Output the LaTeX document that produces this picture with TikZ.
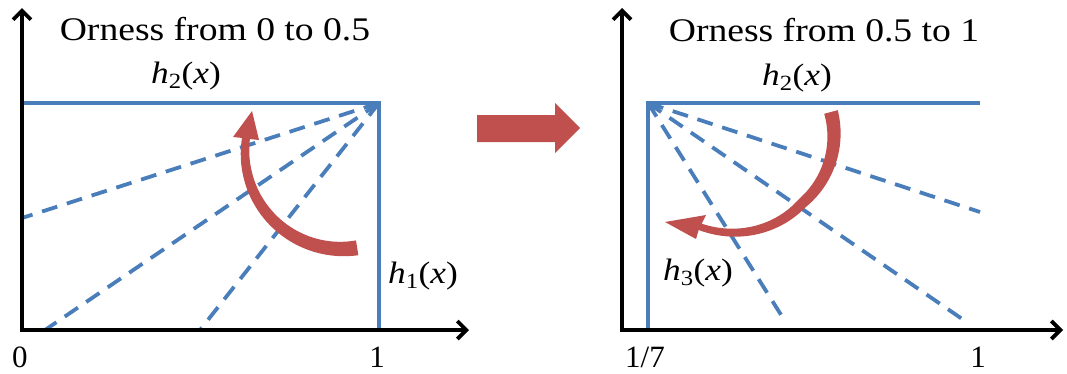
\documentclass[tikz,border=0pt]{standalone}
\usepackage{fontspec}
\setmainfont{Liberation Serif}
\newfontfamily\widefont[FakeStretch=1.14]{Liberation Serif}
\usetikzlibrary{arrows.meta}
\definecolor{lblue}{RGB}{74,126,187}
\definecolor{lred}{RGB}{192,80,77}
\tikzset{
  axisline/.style={line width=3.8pt, black, line join=miter, {Straight Barb[length=9pt,width=18pt]}-{Straight Barb[length=9pt,width=18pt]}},
  solidblue/.style={line width=3.8pt, lblue, line join=miter},
  dashblue/.style={line width=3.8pt, lblue, dash pattern=on 16pt off 10pt},
  title/.style={font=\widefont\fontsize{33}{33}\selectfont, anchor=base, inner sep=0pt},
  flabel/.style={font=\widefont\fontsize{31}{31}\selectfont, anchor=base, inner sep=0pt},
  tick/.style={font=\fontsize{31}{31}\selectfont, anchor=base, inner sep=0pt},
}
\newcommand{\hx}[1]{\textit{h}\textsubscript{#1}(\textit{x})}
\begin{document}
\begin{tikzpicture}[x=1pt,y=-1pt]
\path[use as bounding box] (0,0) rectangle (1067,373);
% ---------- left panel ----------
\coordinate (Lo) at (22,330);
\coordinate (Lyt) at (22,8);
\coordinate (Lxt) at (469,330);
\coordinate (Lc) at (379,103);
\coordinate (Lh) at (22,103);
\coordinate (Lb) at (379,330);
\coordinate (Ld1) at (22,218);
\coordinate (Ld2) at (45,330);
\coordinate (Ld3) at (200,330);
\draw[dashblue] (Lc) -- (Ld1);
\draw[dashblue] (Lc) -- (Ld2);
\draw[dashblue] (Lc) -- (Ld3);
\draw[solidblue] (Lh) -- (Lc) -- (Lb);
\draw[axisline] (Lyt) -- (Lo) -- (Lxt);
\node[title] (Lt) at (215,40) {Orness from 0 to 0.5};
\node[flabel] (Lh2) at (186,83) {\hx{2}};
\node[flabel] (Lh1) at (423,283) {\hx{1}};
\node[tick] (L0) at (20,367) {0};
\node[tick] (L1) at (377,367) {1};
% left red curved arrow
\fill[lred] plot[domain=81:188, samples=50, variable=\t]
   ({342+(97+(7.5-3.5*(\t-81)/107))*cos(\t)}, {152+(97+(7.5-3.5*(\t-81)/107))*sin(\t)})
   -- (233,137) -- (252,111) -- (259,140)
   -- plot[domain=188:81, samples=50, variable=\t]
   ({342+(97-(7.5-3.5*(\t-81)/107))*cos(\t)}, {152+(97-(7.5-3.5*(\t-81)/107))*sin(\t)})
   -- cycle;
% ---------- middle arrow ----------
\fill[lred] (477,115) -- (555,115) -- (555,103) -- (580,128) -- (555,153) -- (555,142) -- (477,142) -- cycle;
% ---------- right panel ----------
\coordinate (Ro) at (622,330);
\coordinate (Ryt) at (622,8);
\coordinate (Rxt) at (1063,330);
\coordinate (Rc) at (648,103);
\coordinate (Rb) at (648,330);
\coordinate (Rh) at (980,103);
\coordinate (Rd1) at (980,212);
\coordinate (Rd2) at (968,323);
\coordinate (Rd3) at (783,318);
\draw[dashblue] (Rc) -- (Rd1);
\draw[dashblue] (Rc) -- (Rd2);
\draw[dashblue] (Rc) -- (Rd3);
\draw[solidblue] (Rb) -- (Rc) -- (Rh);
\draw[axisline] (Ryt) -- (Ro) -- (Rxt);
\node[title] (Rt) at (824,41) {Orness from 0.5 to 1};
\node[flabel] (Rh2) at (797,85) {\hx{2}};
\node[flabel] (Rh3) at (698,280) {\hx{3}};
\node[tick] (R17) at (645,367) {1/7};
\node[tick] (R1) at (978,367) {1};
% right red curved arrow
\fill[lred] plot[domain=-15:116, samples=60, variable=\t]
   ({745+(89+0.2*max(0,\t-50)+(7-3.5*(\t+15)/131))*cos(\t)}, {135+(89+0.2*max(0,\t-50)+(7-3.5*(\t+15)/131))*sin(\t)})
   -- (696,239) -- (665,222) -- (706,215)
   -- plot[domain=116:-15, samples=60, variable=\t]
   ({745+(89+0.2*max(0,\t-50)-(7-3.5*(\t+15)/131))*cos(\t)}, {135+(89+0.2*max(0,\t-50)-(7-3.5*(\t+15)/131))*sin(\t)})
   -- cycle;
\end{tikzpicture}
\end{document}
